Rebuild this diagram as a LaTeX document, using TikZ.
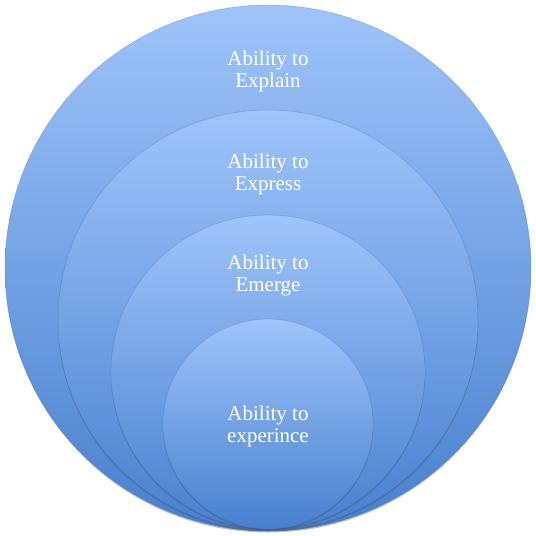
\documentclass[tikz,border=0pt]{standalone}
\usepackage{fontspec}
\setmainfont{Liberation Serif}
\usetikzlibrary{shadows}
\definecolor{topblue}{RGB}{158,196,250}
\definecolor{botblue}{RGB}{72,128,206}
\definecolor{edgeblue}{RGB}{50,95,165}
\tikzset{
  ring/.style={circle, inner sep=0pt, top color=topblue, bottom color=botblue,
    draw=edgeblue, draw opacity=0.22, line width=0.8pt,
    drop shadow={shadow xshift=0pt, shadow yshift=-1.5pt, opacity=0.35, fill=black!70}},
  lbl/.style={text=white, font=\fontsize{21}{22}\selectfont, align=center, inner sep=0pt}
}
\begin{document}
\begin{tikzpicture}[x=1pt,y=-1pt]
\useasboundingbox (0,0) rectangle (536,536);
\node[ring, minimum size=526pt] (c1) at (268,268) {};
\node[ring, minimum size=420pt] (c2) at (268,320) {};
\node[ring, minimum size=314pt] (c3) at (268,372) {};
\node[ring, minimum size=210pt] (c4) at (268,424) {};
\node[lbl] (t1) at (268,71) {Ability to\\Explain};
\node[lbl] (t2) at (268,174) {Ability to\\Express};
\node[lbl] (t3) at (268,275) {Ability to\\Emerge};
\node[lbl] (t4) at (268,426) {Ability to\\experince};
\end{tikzpicture}
\end{document}
